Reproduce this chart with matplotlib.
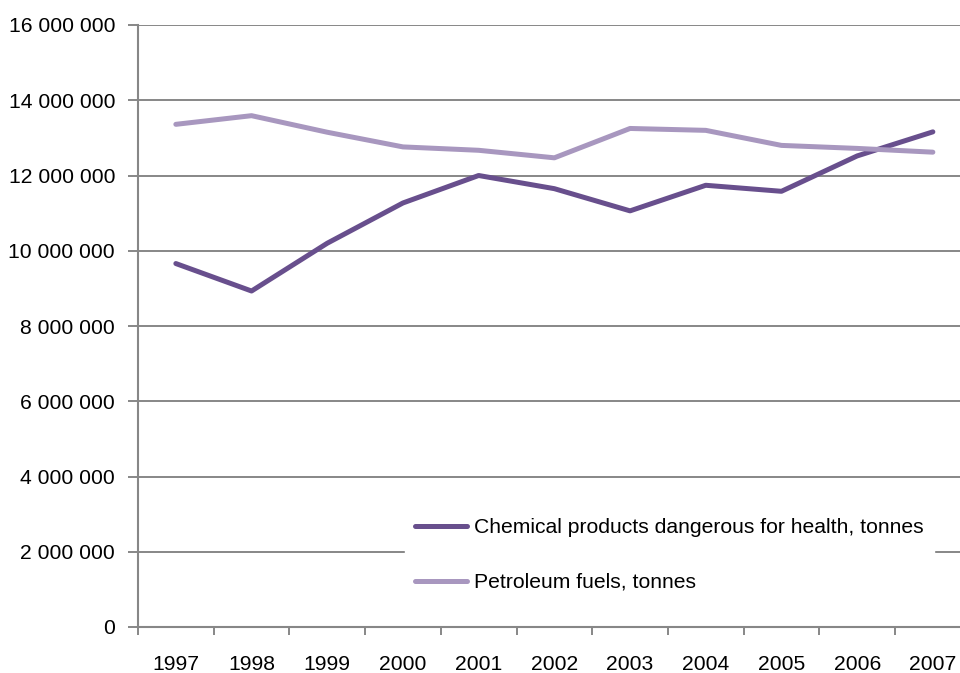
import matplotlib
matplotlib.use("Agg")
import matplotlib.pyplot as plt
from matplotlib.ticker import FuncFormatter, FixedLocator

plt.rcParams['font.family'] = ['Liberation Sans', 'DejaVu Sans']

years = ["1997", "1998", "1999", "2000", "2001", "2002",
         "2003", "2004", "2005", "2006", "2007"]
chemical = [9660000, 8930000, 10200000, 11270000, 12000000, 11650000,
            11060000, 11740000, 11580000, 12520000, 13160000]
petroleum = [13360000, 13590000, 13150000, 12760000, 12670000, 12470000,
             13250000, 13200000, 12800000, 12720000, 12620000]

label_chem = "Chemical products dangerous for health, tonnes"
label_petro = "Petroleum fuels, tonnes"

dark = "#684F8D"
light = "#A897BF"
grid_col = "#878787"
fs = 15.2

W, H = 960, 673
fig = plt.figure(figsize=(W / 100, H / 100), dpi=100)
left, bottom, top = 138, 46, 25
width = 75.7 * 11
ax = fig.add_axes([left / W, bottom / H, width / W, (H - bottom - top) / H])

x = list(range(len(years)))
ax.plot(x, chemical, color=dark, lw=3.6, solid_capstyle='round',
        solid_joinstyle='round', label=label_chem, zorder=3)
ax.plot(x, petroleum, color=light, lw=3.6, solid_capstyle='round',
        solid_joinstyle='round', label=label_petro, zorder=3)

ax.set_xlim(-0.5, len(years) - 0.5)
ax.set_ylim(0, 16000000)
ax.set_yticks(range(0, 16000001, 2000000))
ax.yaxis.set_major_formatter(FuncFormatter(lambda v, p: f"{int(v):,}".replace(",", " ")))
ax.yaxis.grid(True, color=grid_col, lw=1.4)
ax.set_axisbelow(True)

# category labels centred, tick marks on the category boundaries
ax.xaxis.set_major_locator(FixedLocator([i - 0.5 for i in range(len(years) + 1)]))
ax.set_xticklabels([])
ax.set_xticks(x, minor=True)
ax.set_xticklabels(years, minor=True)
ax.tick_params(axis='x', which='minor', length=0, pad=20, labelsize=fs)
ax.tick_params(axis='x', which='major', length=6, width=1.4, color=grid_col, direction='out')
ax.tick_params(axis='y', length=7, width=1.4, color=grid_col, direction='out',
               labelsize=fs, pad=9.5)

for s in ("top", "right"):
    ax.spines[s].set_visible(False)
for s in ("left", "bottom"):
    ax.spines[s].set_color(grid_col)
    ax.spines[s].set_linewidth(1.5)

leg = ax.legend(loc='upper left', bbox_to_anchor=(394 / W, (H - 497) / H),
                bbox_transform=fig.transFigure, frameon=True, fancybox=False,
                edgecolor='white', facecolor='white', framealpha=1,
                fontsize=fs, handlelength=2.45, handletextpad=0.35,
                labelspacing=1.7, borderpad=0.5)
leg.set_zorder(5)

fig.savefig("out.png", dpi=100)
